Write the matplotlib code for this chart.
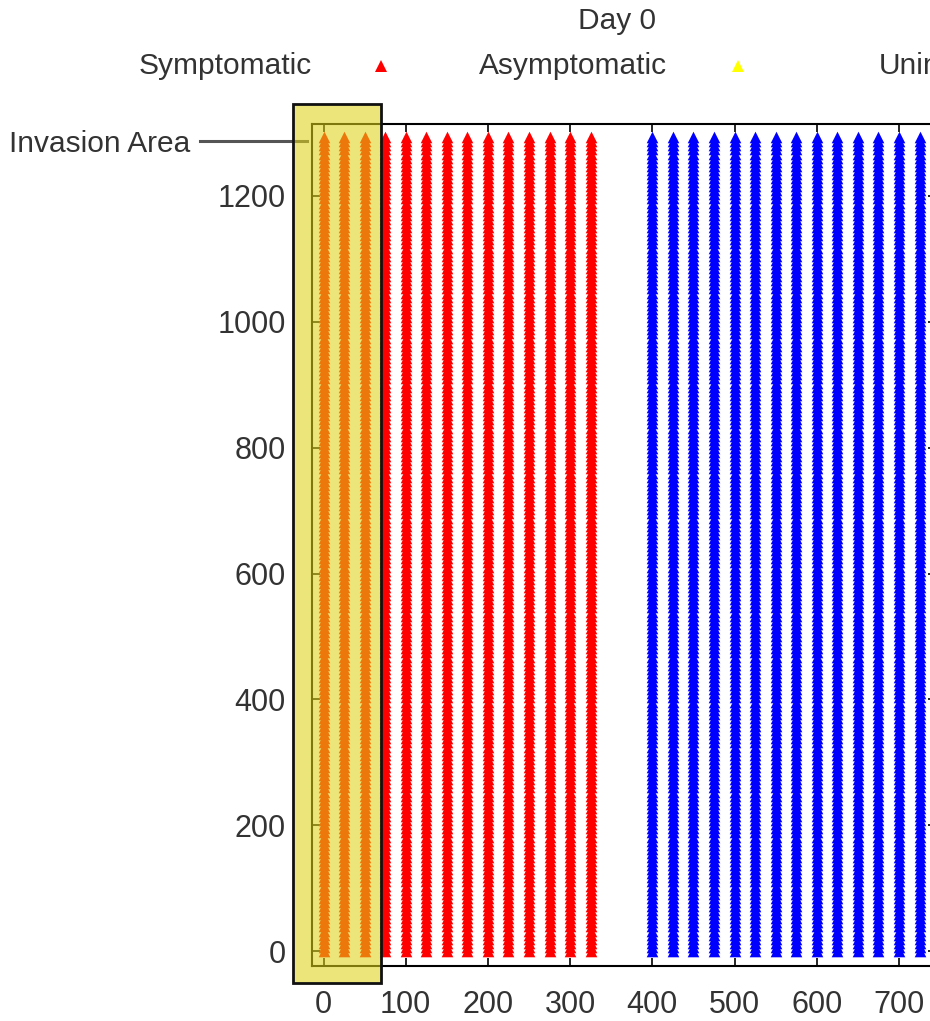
import numpy as np
import matplotlib
matplotlib.use("Agg")
import matplotlib.pyplot as plt
from matplotlib.patches import Rectangle

plt.rcParams["font.family"] = ["Liberation Sans", "DejaVu Sans"]

# colonnes des points (x) et niveaux en y
x_symptomatic = [0, 25, 50, 75, 100, 125, 150, 175, 200, 225, 250, 275, 300, 325]
x_uninfected = [400, 425, 450, 475, 500, 525, 550, 575, 600, 625, 650, 675, 700, 725]
y_start, y_stop, y_step = 0, 1294, 6.5
niveaux_y = np.arange(y_start, y_stop, y_step)

legend_labels = ["Symptomatic", "Asymptomatic", "Uninfected"]
legend_colors = ["#ff0000", "#ffff00", "#0000ff"]

invasion_x = (-37, 70)
invasion_y = (-51, 1346)

W, H = 930, 1021
cor_texto = "#333333"
fig = plt.figure(figsize=(W / 100, H / 100), dpi=100)
ax = fig.add_axes([312 / W, 1 - 966 / H, (936 - 312) / W, (966 - 124) / H])

xs, ys = np.meshgrid(x_symptomatic, niveaux_y)
ax.scatter(xs.ravel(), ys.ravel(), marker="^", s=70, color="#ff0000", linewidths=0, zorder=2)
xu, yu = np.meshgrid(x_uninfected, niveaux_y)
ax.scatter(xu.ravel(), yu.ravel(), marker="^", s=70, color="#0000ff", linewidths=0, zorder=2)

ax.set_xlim(-14, 745)
ax.set_ylim(-23.8, 1314.4)
ax.set_xticks(range(0, 701, 100))
ax.set_yticks(range(0, 1201, 200))
ax.tick_params(direction="in", length=6, width=1.2, top=True, right=True,
               labelsize=22, labelcolor=cor_texto, pad=17)
ax.tick_params(axis="y", pad=19)
for s in ax.spines.values():
    s.set_linewidth(1.5)

# zone d'invasion
ax.plot([-150, -20], [1287, 1287], color="#555555", lw=2.2, clip_on=False, zorder=3)
ax.text(-162, 1283, "Invasion Area", ha="right", va="center", fontsize=21.5,
        color=cor_texto)
rect = Rectangle((invasion_x[0], invasion_y[0]), invasion_x[1] - invasion_x[0],
                 invasion_y[1] - invasion_y[0], facecolor="#dfd315", alpha=0.57,
                 edgecolor="none", clip_on=False, zorder=4)
ax.add_patch(rect)
borda = Rectangle((invasion_x[0], invasion_y[0]), invasion_x[1] - invasion_x[0],
                  invasion_y[1] - invasion_y[0], facecolor="none", edgecolor="#111111",
                  lw=2.0, clip_on=False, zorder=5)
ax.add_patch(borda)

# titre et légende
fig.text(617 / W, 1 - 21 / H, "Day 0", ha="center", va="center", fontsize=21.5, color=cor_texto)
text_right = [312, 667, 1022]
marker_x = [381, 738, 1093]
for lab, cor, tx, mx in zip(legend_labels, legend_colors, text_right, marker_x):
    fig.text(tx / W, 1 - 66 / H, lab, ha="right", va="center", fontsize=21.5, color=cor_texto)
    fig.add_artist(plt.Line2D([mx / W], [1 - 66 / H], marker="^", markersize=9,
                              color=cor, markeredgewidth=0, transform=fig.transFigure))

plt.savefig("out.png", dpi=100)
